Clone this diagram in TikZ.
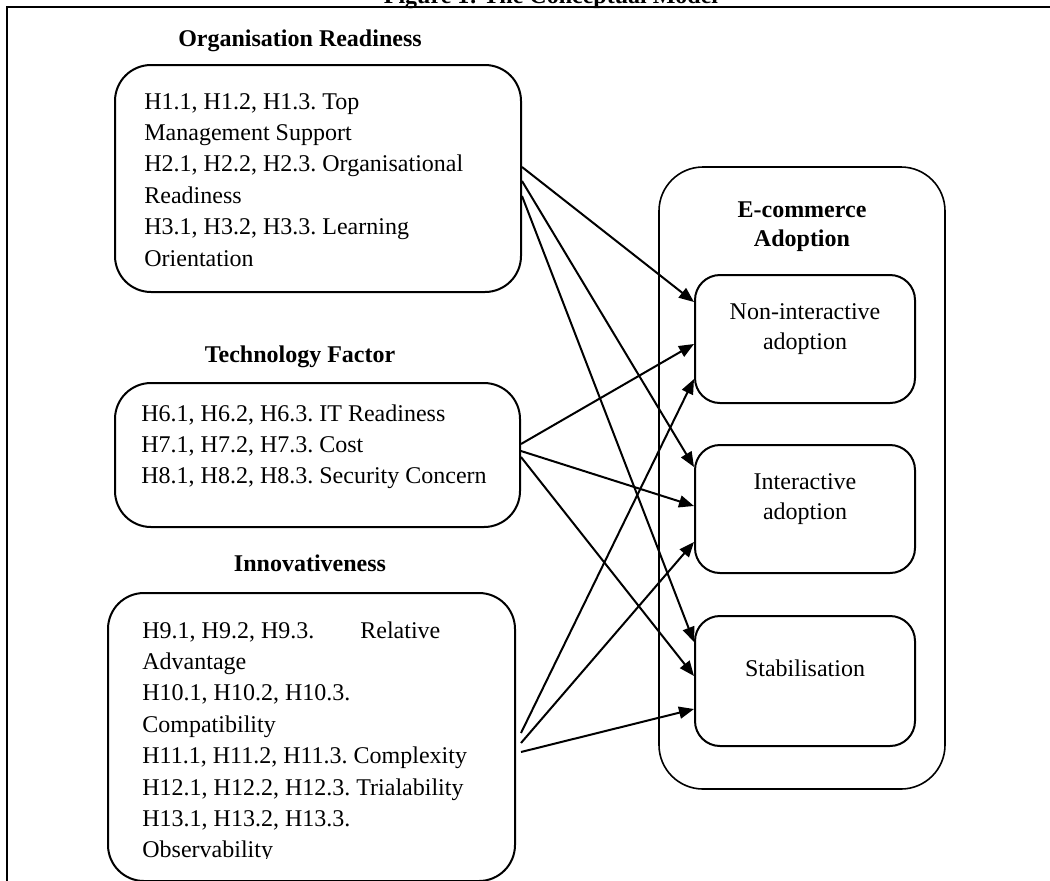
\documentclass[tikz,border=0pt]{standalone}
\usepackage{fontspec}
\setmainfont{Liberation Serif}
\frenchspacing
\usetikzlibrary{arrows.meta}
\tikzset{
	frame/.style={line width=1.3pt},
	factorbox/.style={draw,line width=1pt,rounded corners=18pt,inner sep=0pt},
	adoptbox/.style={draw,line width=1pt,rounded corners=12.5pt,inner sep=0pt,minimum width=110pt},
	groupbox/.style={draw,line width=0.8pt,rounded corners=22pt,inner sep=0pt},
	heading/.style={font=\bfseries\fontsize{12}{14.5}\selectfont,align=center,anchor=base,inner sep=0pt},
	itemtext/.style={font=\fontsize{12}{15.7}\selectfont,align=left,anchor=base west,inner sep=0pt},
	boxtext/.style={font=\fontsize{12}{15}\selectfont,align=center,anchor=base,inner sep=0pt},
	link/.style={->,line width=1pt}
}
\begin{document}
\begin{tikzpicture}[>={Triangle[length=7.5pt,width=6pt]},x=0.5pt,y=-0.5pt]
		\useasboundingbox (0,0) rectangle (1050,880);
		% frame and caption
		\draw[frame] (1060,7) -- (7,7) -- (7,890);
		\node[heading] (caption) at (551,3) {Figure 1: The Conceptual Model};
		% factors on the left (base of a text block = its last line)
		\node[heading] (orghead) at (300,46) {Organisation Readiness};
		\node[factorbox,minimum width=203pt,minimum height=113.5pt] (orgbox) at (318,178.5) {};
		\node[itemtext] (orgtext) at ([xshift=15pt,yshift=-101pt]orgbox.north west)
		{H1.1, H1.2, H1.3. Top\\Management Support\\H2.1, H2.2, H2.3. Organisational\\Readiness\\H3.1, H3.2, H3.3. Learning\\Orientation};
		\node[heading] (techhead) at (300,362) {Technology Factor};
		\node[factorbox,minimum width=202.5pt,minimum height=72pt] (techbox) at (317.5,455) {};
		\node[itemtext] (techtext) at ([xshift=13.5pt,yshift=-50.9pt]techbox.north west)
		{H6.1, H6.2, H6.3. IT Readiness\\H7.1, H7.2, H7.3. Cost\\H8.1, H8.2, H8.3. Security Concern};
		\node[heading] (innohead) at (310,571) {Innovativeness};
		\node[factorbox,minimum width=203.5pt,minimum height=144pt] (innobox) at (311.5,737) {};
		\begin{scope}
			\clip (100,600) rectangle (520,858);
			\node[itemtext] (innotext) at ([xshift=17.5pt,yshift=-132.9pt]innobox.north west)
			{H9.1, H9.2, H9.3.\hspace{20pt} Relative\\Advantage\\H10.1, H10.2, H10.3.\\Compatibility\\H11.1, H11.2, H11.3. Complexity\\H12.1, H12.2, H12.3. Trialability\\H13.1, H13.2, H13.3.\\Observability};
		\end{scope}
		% adoption stages on the right
		\node[groupbox,minimum width=143pt,minimum height=311pt] (ecombox) at (802,478) {};
		\node[heading] (ecomhead) at ([yshift=-40pt]ecombox.north) {E-commerce\\Adoption};
		\node[adoptbox,minimum height=64pt] (nonbox) at (805,339) {};
		\node[boxtext] (nontext) at ([yshift=-37.5pt]nonbox.north) {Non-interactive\\adoption};
		\node[adoptbox,minimum height=64pt] (intbox) at (805,509) {};
		\node[boxtext] (inttext) at ([yshift=-37.5pt]intbox.north) {Interactive\\adoption};
		\node[adoptbox,minimum height=65pt] (stabbox) at (805,681) {};
		\node[boxtext] (stabtext) at ([yshift=-30.5pt]stabbox.north) {Stabilisation};
		% hypotheses
		\draw[link] ([yshift=-51.5pt]orgbox.north east) -- ([yshift=-14pt]nonbox.north west);
		\draw[link] ([yshift=-58.5pt]orgbox.north east) -- ([yshift=-11.5pt]intbox.north west);
		\draw[link] ([yshift=-66pt]orgbox.north east) -- ([yshift=-13.5pt]stabbox.north west);
		\draw[link] ([yshift=-31pt]techbox.north east) -- ([yshift=-35pt]nonbox.north west);
		\draw[link] ([yshift=-34.5pt]techbox.north east) -- ([yshift=-31pt]intbox.north west);
		\draw[link] ([yshift=-37.5pt]techbox.north east) -- ([yshift=-30.5pt]stabbox.north west);
		\draw[link] ([xshift=2.5pt,yshift=-70.5pt]innobox.north east) -- ([yshift=-52.5pt]nonbox.north west);
		\draw[link] ([xshift=2.5pt,yshift=-75.5pt]innobox.north east) -- ([yshift=-49pt]intbox.north west);
		\draw[link] ([xshift=2.5pt,yshift=-80pt]innobox.north east) -- ([yshift=-47pt]stabbox.north west);
	\end{tikzpicture}
\end{document}
